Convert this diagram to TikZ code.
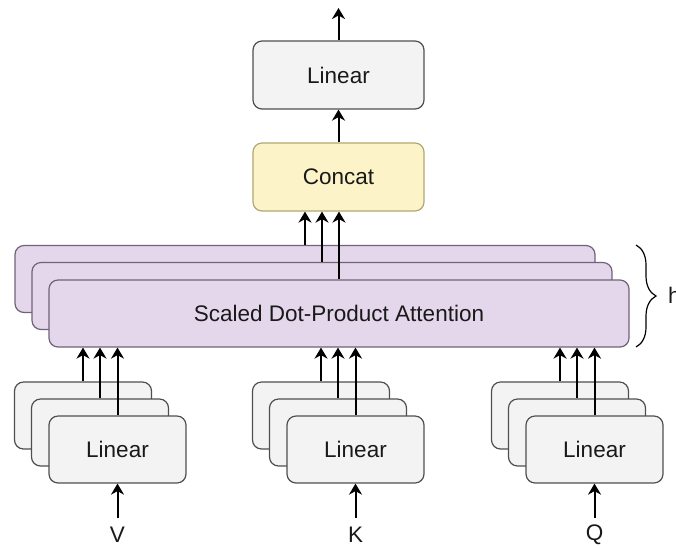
\documentclass[tikz,border=0pt]{standalone}
\usepackage{fontspec}
\setmainfont{Liberation Sans}
\usetikzlibrary{arrows.meta,decorations.pathreplacing}
\definecolor{linfill}{HTML}{F3F3F3}
\definecolor{lindraw}{HTML}{4F4F4F}
\definecolor{catfill}{HTML}{FCF4C8}
\definecolor{catdraw}{HTML}{B0A874}
\definecolor{sdfill}{HTML}{E4D7EC}
\definecolor{sddraw}{HTML}{6F6379}
\newcommand\lblfont{\fontsize{22.5}{26}\selectfont}
\tikzset{
  box/.style={rounded corners=9pt, line width=1.2pt, inner sep=0pt, font=\lblfont, text=black!90},
  lin/.style={box, draw=lindraw, fill=linfill, minimum width=137pt, minimum height=67pt},
  linbig/.style={box, draw=lindraw, fill=linfill, minimum width=171pt, minimum height=68pt},
  cat/.style={box, draw=catdraw, fill=catfill, minimum width=171pt, minimum height=68pt},
  sdpa/.style={box, draw=sddraw, fill=sdfill, minimum width=580pt, minimum height=67pt},
  arr/.style={line width=2pt, -{Stealth[length=11pt,width=13pt,inset=3.5pt]}},
  lab/.style={font=\lblfont, inner sep=0pt, text=black!90}
}
\begin{document}
\begin{tikzpicture}[x=1pt,y=-1pt]
\useasboundingbox (0,0) rectangle (676,547);
% top
\node[linbig] (out) at (338.5,75) {Linear};
\node[cat] (cat) at (338.5,177) {Concat};
\coordinate (top) at (338.5,8);
% attention heads
\node[sdpa] (s1) at (305,279) {};
\node[sdpa] (s2) at (322,296) {};
\node[sdpa] (s3) at (339,313.5) {Scaled Dot-Product Attention};
% linear groups
\foreach \g/\x in {v/83, k/321, q/560}{
  \node[lin] (\g1) at (\x,415.5) {};
  \node[lin] (\g2) at (\x+17,432.5) {};
  \node[lin] (\g3) at (\x+34.5,449.5) {Linear};
}
% inputs
\node[lab] (V) at (117.5,535) {V};
\node[lab] (K) at (355.5,535) {K};
\node[lab] (Q) at (594.5,535) {Q};
\foreach \g in {v,k,q}{
  \coordinate (\g in) at ([yshift=-34pt]\g3.south);
  \draw[arr] (\g in) -- (\g3.south);
  \foreach \i in {1,2,3}{
    \draw[arr] (\g\i.north) -- (\g\i.north |- s3.south);
  }
}
\foreach \i in {1,2,3}{
  \draw[arr] (s\i.north) -- (s\i.north |- cat.south);
}
\draw[arr] (cat.north) -- (out.south);
\draw[arr] (out.north) -- (top);
% brace
\coordinate (bt) at (636,245);
\coordinate (bb) at (636,347);
\draw[line width=1.2pt, decorate, decoration={brace, amplitude=20pt}] (bt) -- (bb);
\node[lab, anchor=west] (h) at (668,295) {h};
\end{tikzpicture}
\end{document}
